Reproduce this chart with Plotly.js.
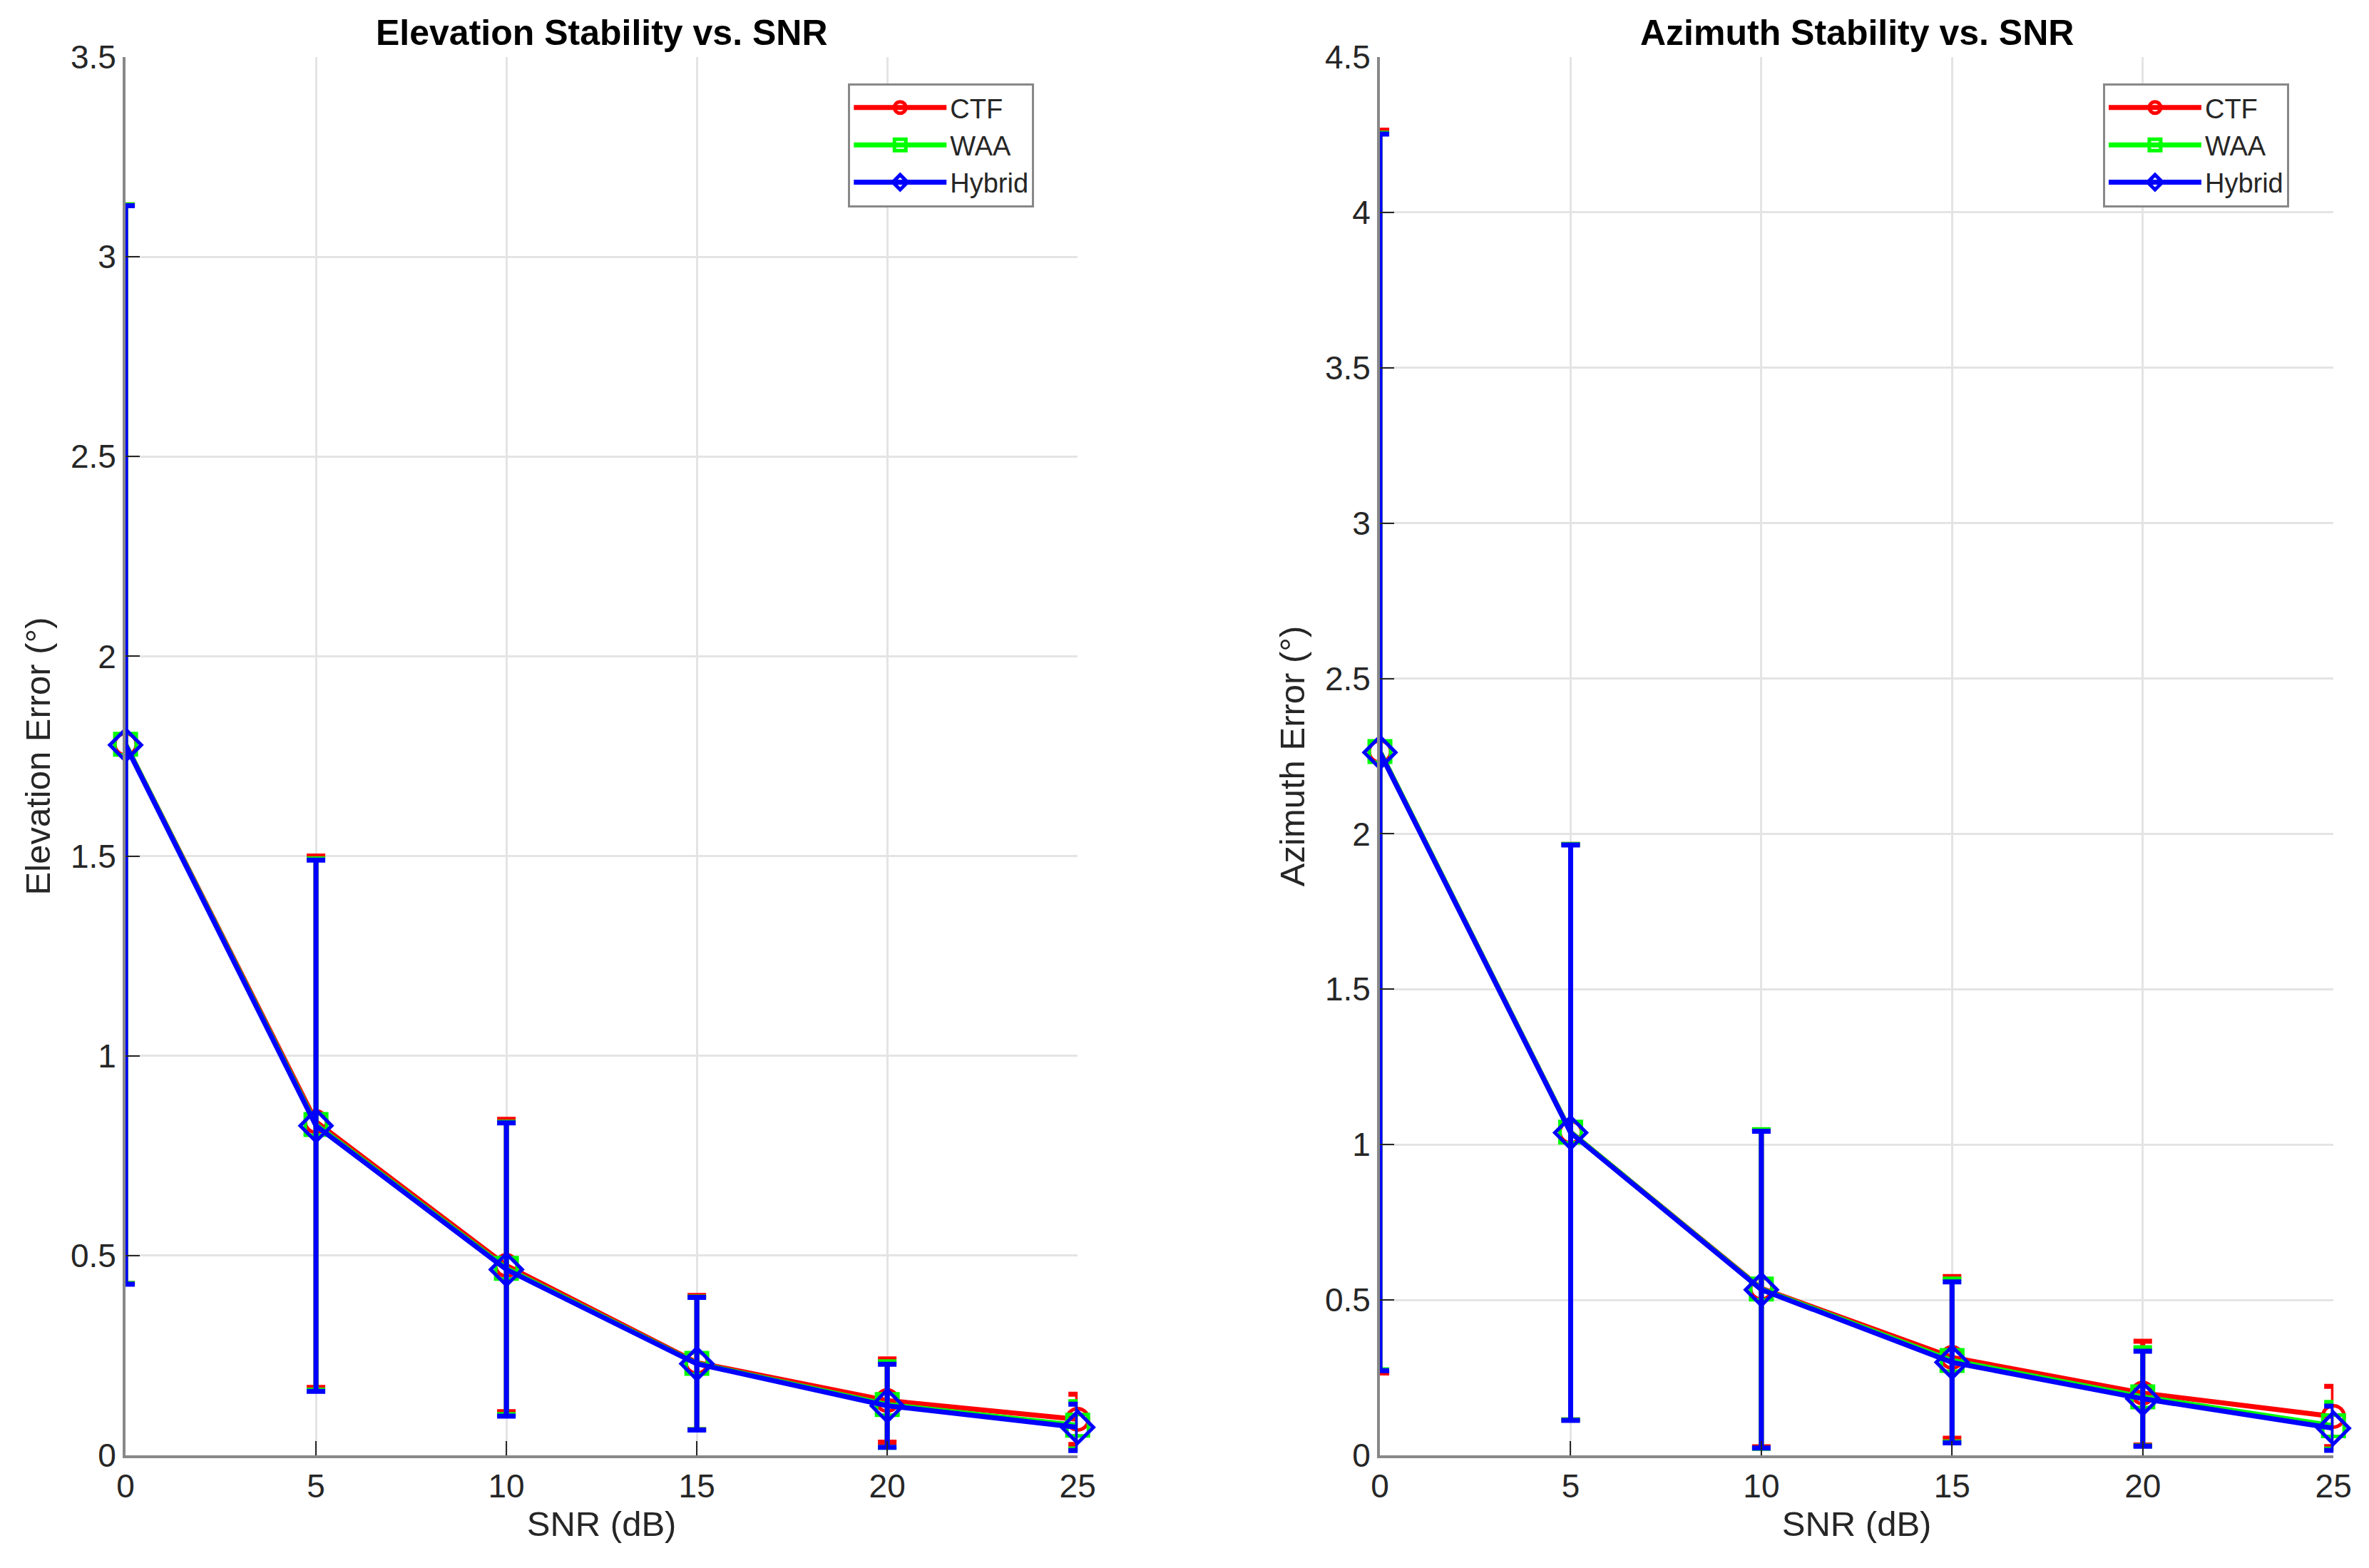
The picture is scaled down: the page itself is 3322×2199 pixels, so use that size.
<!DOCTYPE html>
<html>
<head>
<meta charset="utf-8">
<script src="https://cdn.plot.ly/plotly-3.0.1.min.js"></script>
<style>html,body{margin:0;padding:0;background:#fff;}#chart{width:3322px;height:2199px;}</style>
</head>
<body>
<div id="chart"></div>
<script>
// SNR levels (dB)
const snr = [0, 5, 10, 15, 20, 25];

// Elevation error means and standard deviations (deg)
const elevCTF = [1.780, 0.835, 0.475, 0.232, 0.137, 0.090];
const elevCTFStd = [1.350, 0.665, 0.366, 0.168, 0.104, 0.063];
const elevWAA = [1.780, 0.828, 0.468, 0.230, 0.127, 0.075];
const elevWAAStd = [1.350, 0.665, 0.366, 0.166, 0.107, 0.059];
const elevHybrid = [1.778, 0.825, 0.465, 0.229, 0.124, 0.070];
const elevHybridStd = [1.350, 0.665, 0.367, 0.166, 0.104, 0.058];

// Azimuth error means and standard deviations (deg)
const azCTF = [2.265, 1.040, 0.537, 0.315, 0.200, 0.125];
const azCTFStd = [2.000, 0.926, 0.510, 0.260, 0.167, 0.097];
const azWAA = [2.265, 1.040, 0.535, 0.305, 0.188, 0.095];
const azWAAStd = [1.990, 0.926, 0.513, 0.262, 0.158, 0.075];
const azHybrid = [2.262, 1.038, 0.533, 0.299, 0.182, 0.087];
const azHybridStd = [1.990, 0.926, 0.510, 0.259, 0.153, 0.071];

const seriesNames = ['CTF', 'WAA', 'Hybrid'];
const seriesColors = ['#ff0000', '#00ff00', '#0000ff'];
const seriesSymbols = ['circle-open', 'square-open', 'diamond-open'];

const FONT = '"Liberation Sans", Arial, Helvetica, sans-serif';
const TXT = '#262626';

function mk(i, y, sd, xa, ya, leg) {
  return {
    type: 'scatter', mode: 'lines+markers', cliponaxis: false,
    x: snr, y: y, name: seriesNames[i],
    xaxis: xa, yaxis: ya, legend: leg,
    line: {color: seriesColors[i], width: 7},
    marker: {symbol: seriesSymbols[i], size: seriesSymbols[i] === 'diamond-open' ? 34 : 30,
             color: seriesColors[i], line: {color: seriesColors[i], width: 5}},
    error_y: {type: 'data', array: sd, visible: true, color: seriesColors[i], thickness: 7, width: 13}
  };
}

const data = [
  mk(0, elevCTF, elevCTFStd, 'x', 'y', 'legend'),
  mk(1, elevWAA, elevWAAStd, 'x', 'y', 'legend'),
  mk(2, elevHybrid, elevHybridStd, 'x', 'y', 'legend'),
  mk(0, azCTF, azCTFStd, 'x2', 'y2', 'legend2'),
  mk(1, azWAA, azWAAStd, 'x2', 'y2', 'legend2'),
  mk(2, azHybrid, azHybridStd, 'x2', 'y2', 'legend2')
];

function xax(domain, anchor) {
  return {
    domain: domain, anchor: anchor, range: [0, 25], tick0: 0, dtick: 5,
    showline: true, linecolor: '#888888', linewidth: 4, mirror: false,
    ticks: 'inside', ticklen: 20, tickwidth: 2, tickcolor: TXT,
    showgrid: true, gridcolor: '#e4e4e4', gridwidth: 3, zeroline: false,
    tickfont: {family: FONT, size: 46, color: TXT},
    title: {text: 'SNR (dB)', font: {family: FONT, size: 49, color: TXT}, standoff: 12}
  };
}
function yax(domain, anchor, max, label) {
  return {
    domain: domain, anchor: anchor, range: [0, max], tick0: 0, dtick: 0.5,
    showline: true, linecolor: '#888888', linewidth: 4, mirror: false,
    ticks: 'inside', ticklen: 20, tickwidth: 2, tickcolor: TXT,
    showgrid: true, gridcolor: '#e4e4e4', gridwidth: 3, zeroline: false,
    tickfont: {family: FONT, size: 46, color: TXT},
    title: {text: label, font: {family: FONT, size: 49, color: TXT}, standoff: 14}
  };
}

const yDom = [0.0719, 0.9636];
const legendBase = {
  yanchor: 'top', xanchor: 'left', y: 0.947,
  bgcolor: '#ffffff', bordercolor: '#888888', borderwidth: 3,
  font: {family: FONT, size: 38, color: TXT}, tracegroupgap: 0, itemwidth: 130
};

const layout = {
  width: 3322, height: 2199,
  margin: {l: 0, r: 0, t: 0, b: 0},
  paper_bgcolor: '#ffffff', plot_bgcolor: '#ffffff',
  showlegend: true,
  font: {family: FONT, color: TXT},
  xaxis: xax([0.053, 0.4549], 'y'),
  yaxis: yax(yDom, 'x', 3.5, 'Elevation Error (°)'),
  xaxis2: xax([0.5825, 0.985], 'y2'),
  yaxis2: yax(yDom, 'x2', 4.5, 'Azimuth Error (°)'),
  legend: Object.assign({}, legendBase, {x: 0.358}),
  legend2: Object.assign({}, legendBase, {x: 0.8877}),
  annotations: [
    {text: '<b>Elevation Stability vs. SNR</b>', xref: 'paper', yref: 'paper',
     x: (0.053 + 0.4549) / 2, y: 0.979, xanchor: 'center', yanchor: 'middle', showarrow: false,
     font: {family: FONT, size: 50, color: '#000000'}},
    {text: '<b>Azimuth Stability vs. SNR</b>', xref: 'paper', yref: 'paper',
     x: (0.5825 + 0.985) / 2, y: 0.979, xanchor: 'center', yanchor: 'middle', showarrow: false,
     font: {family: FONT, size: 50, color: '#000000'}}
  ]
};

Plotly.newPlot('chart', data, layout, {displayModeBar: false, responsive: false});
</script>
</body>
</html>
